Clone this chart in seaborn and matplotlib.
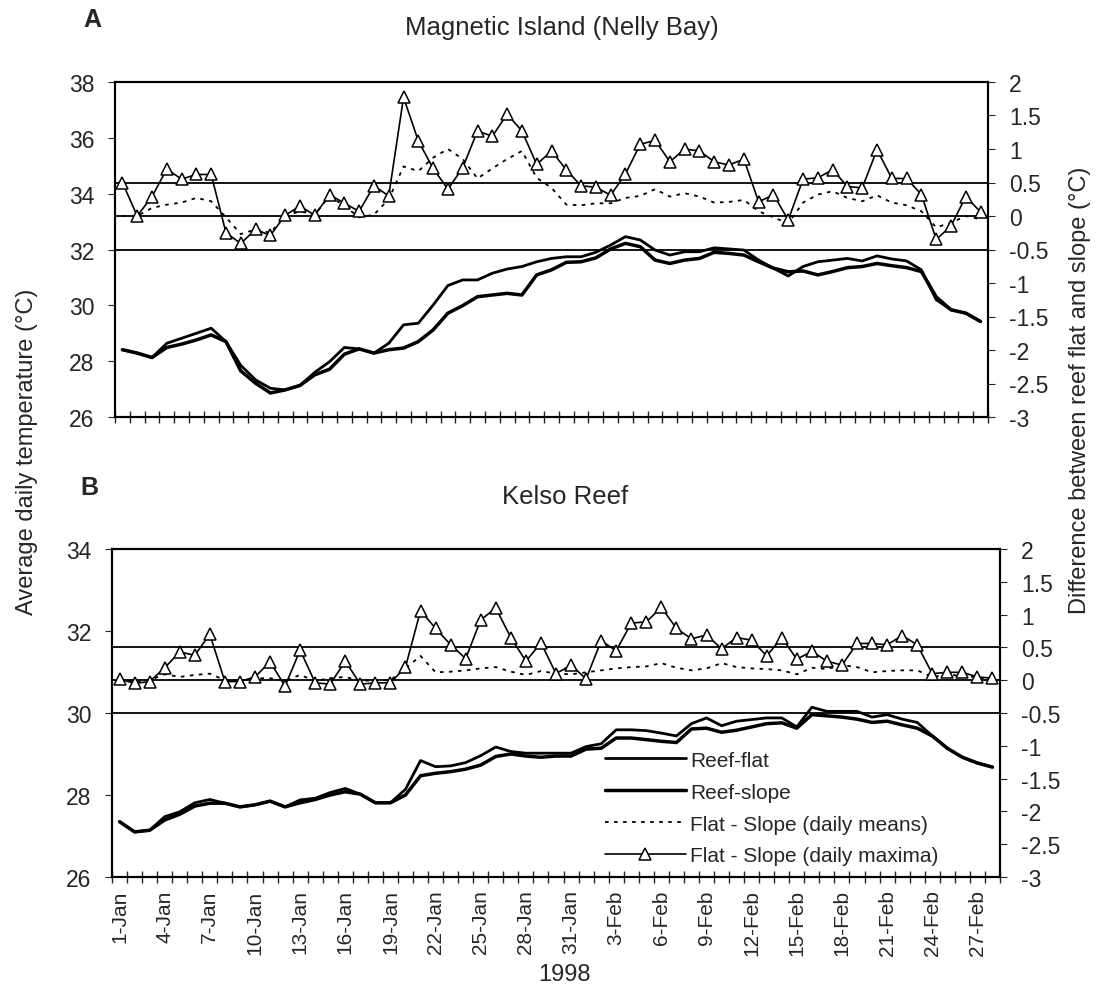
import numpy as np
import pandas as pd
import seaborn as sns
import matplotlib.pyplot as plt

sns.set_style('ticks')
plt.rcParams['font.family'] = ['Liberation Sans', 'DejaVu Sans']
plt.rcParams['axes.unicode_minus'] = False

dates = pd.date_range('1998-01-01', '1998-02-28')
day_labels = [f'{d.day}-{d:%b}' for d in dates]
days = np.arange(len(dates))

# Magnetic Island (Nelly Bay)
mag_flat = [28.41, 28.29, 28.13, 28.64, 28.82, 29.00, 29.18, 28.70, 27.85, 27.33,
            27.03, 26.97, 27.13, 27.60, 27.98, 28.49, 28.44, 28.29, 28.64, 29.30,
            29.36, 30.01, 30.71, 30.91, 30.91, 31.15, 31.30, 31.39, 31.56, 31.68,
            31.74, 31.74, 31.90, 32.16, 32.46, 32.34, 31.98, 31.80, 31.92, 31.92,
            32.06, 32.02, 31.98, 31.62, 31.33, 31.05, 31.39, 31.56, 31.62, 31.68,
            31.59, 31.77, 31.66, 31.59, 31.27, 30.20, 29.84, 29.72, 29.42]
mag_slope = [28.41, 28.29, 28.13, 28.49, 28.61, 28.76, 28.94, 28.70, 27.65, 27.21,
             26.86, 26.97, 27.13, 27.51, 27.71, 28.25, 28.44, 28.29, 28.41, 28.47,
             28.70, 29.12, 29.72, 29.99, 30.31, 30.37, 30.43, 30.37, 31.09, 31.27,
             31.54, 31.56, 31.70, 32.02, 32.22, 32.10, 31.62, 31.50, 31.62, 31.68,
             31.90, 31.86, 31.80, 31.56, 31.33, 31.20, 31.23, 31.09, 31.21, 31.35,
             31.39, 31.50, 31.42, 31.35, 31.21, 30.30, 29.84, 29.72, 29.42]
mag_mean_diff = [0.00, 0.00, 0.12, 0.17, 0.20, 0.27, 0.22, -0.02, -0.27, -0.20,
                 -0.25, 0.00, 0.07, 0.02, 0.30, 0.15, -0.02, 0.02, 0.25, 0.74,
                 0.67, 0.87, 1.00, 0.85, 0.56, 0.71, 0.85, 0.97, 0.57, 0.42,
                 0.17, 0.16, 0.19, 0.19, 0.27, 0.30, 0.40, 0.29, 0.34, 0.29,
                 0.20, 0.21, 0.24, 0.07, -0.02, -0.11, 0.20, 0.32, 0.37, 0.27,
                 0.22, 0.31, 0.20, 0.16, 0.07, -0.17, -0.10, 0.00, -0.05]
mag_max_diff = [0.50, 0.00, 0.29, 0.70, 0.55, 0.62, 0.62, -0.25, -0.41, -0.20,
                -0.29, 0.01, 0.15, 0.01, 0.32, 0.19, 0.07, 0.45, 0.30, 1.77,
                1.12, 0.71, 0.40, 0.72, 1.27, 1.19, 1.52, 1.27, 0.77, 0.97,
                0.69, 0.45, 0.43, 0.31, 0.63, 1.07, 1.13, 0.81, 1.00, 0.97,
                0.81, 0.76, 0.85, 0.21, 0.32, -0.06, 0.55, 0.57, 0.69, 0.44,
                0.42, 0.99, 0.56, 0.56, 0.32, -0.35, -0.15, 0.29, 0.06]

# Kelso Reef
kel_flat = [27.35, 27.10, 27.14, 27.47, 27.59, 27.81, 27.89, 27.80, 27.71, 27.76,
            27.85, 27.71, 27.88, 27.92, 28.06, 28.16, 28.02, 27.81, 27.81, 28.14,
            28.84, 28.69, 28.71, 28.79, 28.96, 29.17, 29.06, 29.02, 29.02, 29.02,
            29.02, 29.18, 29.25, 29.59, 29.59, 29.57, 29.51, 29.44, 29.74, 29.88,
            29.69, 29.80, 29.84, 29.88, 29.88, 29.66, 30.14, 30.04, 30.04, 30.04,
            29.90, 29.96, 29.85, 29.77, 29.44, 29.14, 28.92, 28.78, 28.68]
kel_slope = [27.35, 27.10, 27.14, 27.39, 27.53, 27.73, 27.80, 27.80, 27.71, 27.76,
             27.85, 27.71, 27.81, 27.89, 28.00, 28.08, 28.02, 27.81, 27.81, 28.00,
             28.47, 28.53, 28.57, 28.63, 28.73, 28.94, 29.00, 28.95, 28.92, 28.95,
             28.95, 29.12, 29.14, 29.39, 29.39, 29.35, 29.31, 29.28, 29.61, 29.63,
             29.53, 29.58, 29.66, 29.74, 29.76, 29.63, 29.96, 29.93, 29.90, 29.85,
             29.77, 29.80, 29.71, 29.63, 29.44, 29.14, 28.92, 28.78, 28.68]
kel_mean_diff = [0.02, -0.03, 0.00, 0.09, 0.05, 0.08, 0.10, 0.00, -0.01, 0.03,
                 0.03, -0.01, 0.08, -0.01, 0.03, 0.05, -0.01, 0.00, 0.00, 0.18,
                 0.37, 0.12, 0.13, 0.15, 0.18, 0.20, 0.13, 0.08, 0.14, 0.10,
                 0.09, 0.12, 0.15, 0.18, 0.20, 0.21, 0.26, 0.19, 0.15, 0.18,
                 0.26, 0.20, 0.18, 0.17, 0.15, 0.09, 0.19, 0.17, 0.23, 0.20,
                 0.12, 0.14, 0.15, 0.15, 0.05, 0.08, 0.07, 0.04, 0.02]
kel_max_diff = [0.02, -0.05, -0.02, 0.19, 0.43, 0.38, 0.70, -0.02, -0.02, 0.05,
                0.28, -0.09, 0.46, -0.04, -0.06, 0.29, -0.06, -0.04, -0.04, 0.20,
                1.06, 0.79, 0.54, 0.33, 0.92, 1.10, 0.65, 0.29, 0.57, 0.10,
                0.23, 0.02, 0.60, 0.45, 0.87, 0.89, 1.11, 0.79, 0.63, 0.69,
                0.48, 0.65, 0.61, 0.37, 0.65, 0.32, 0.44, 0.29, 0.23, 0.56,
                0.56, 0.54, 0.68, 0.54, 0.10, 0.12, 0.12, 0.05, 0.03]

diff_ticks = np.arange(-3, 2.01, 0.5)

fig = plt.figure(figsize=(10.98, 9.87), dpi=100)


def draw_panel(rect, flat, slope, mean_diff, max_diff, t_ticks, show_dates, legend):
    ax = fig.add_axes(rect)
    ax2 = ax.twinx()

    sns.lineplot(x=days, y=flat, ax=ax, color='black', lw=2.0, label='Reef-flat')
    sns.lineplot(x=days, y=slope, ax=ax, color='black', lw=2.5, label='Reef-slope')
    for v in (0.5, 0, -0.5):
        ax2.axhline(v, color='black', lw=1.3)
    sns.lineplot(x=days, y=mean_diff, ax=ax2, color='black', lw=1.3,
                 linestyle=(0, (2, 3)), label='Flat - Slope (daily means)')
    sns.lineplot(x=days, y=max_diff, ax=ax2, color='black', lw=1.2, marker='^',
                 markersize=8.5, markerfacecolor='white', markeredgecolor='black',
                 markeredgewidth=1.1, label='Flat - Slope (daily maxima)')

    h1, l1 = ax.get_legend_handles_labels()
    h2, l2 = ax2.get_legend_handles_labels()
    ax.get_legend().remove()
    ax2.get_legend().remove()

    ax.set_xlim(-0.5, len(days) - 0.5)
    ax.set_ylim(t_ticks[0], t_ticks[-1])
    ax.set_yticks(t_ticks)
    ax.set_yticklabels([str(t) for t in t_ticks])
    ax2.set_ylim(-3, 2)
    ax2.set_yticks(diff_ticks)
    ax2.set_yticklabels([f'{v:g}' for v in diff_ticks])
    ax.set_xlabel('')
    ax.set_ylabel('')
    ax2.set_ylabel('')

    ax.set_xticks(days[::3])
    ax.set_xticks(np.arange(-0.5, len(days), 1), minor=True)
    ax.tick_params(axis='x', which='major', length=0, pad=9, labelsize=15)
    ax.tick_params(axis='x', which='minor', direction='inout', length=8, width=1)
    if show_dates:
        ax.set_xticklabels(day_labels[::3], rotation=90)
    else:
        ax.set_xticklabels([])
    ax.tick_params(axis='y', direction='out', length=5, pad=10, labelsize=16.5)
    ax2.tick_params(axis='y', direction='out', length=5, pad=10, labelsize=16.5)

    for a in (ax, ax2):
        for s in a.spines.values():
            s.set_linewidth(1.5)
            s.set_color('black')

    if legend:
        ax2.legend(h1 + h2, l1 + l2, loc='upper left', bbox_to_anchor=(0.555, 0.385),
                   frameon=False, fontsize=15, handlelength=3.9, handletextpad=0.2,
                   labelspacing=0.62, borderpad=0, borderaxespad=0)
    return ax, ax2


draw_panel([115 / 1098, 1 - 418 / 987, 873 / 1098, 335 / 987],
           mag_flat, mag_slope, mag_mean_diff, mag_max_diff,
           [26, 28, 30, 32, 34, 36, 38], False, False)
draw_panel([112 / 1098, 1 - 878 / 987, 888 / 1098, 328 / 987],
           kel_flat, kel_slope, kel_mean_diff, kel_max_diff,
           [26, 28, 30, 32, 34], True, True)

fig.text(562 / 1098, 1 - 28 / 987, 'Magnetic Island (Nelly Bay)', ha='center', va='center', fontsize=18.5)
fig.text(565 / 1098, 1 - 497 / 987, 'Kelso Reef', ha='center', va='center', fontsize=18.5)
fig.text(92 / 1098, 1 - 20 / 987, 'A', ha='center', va='center', fontsize=18, fontweight='bold')
fig.text(89 / 1098, 1 - 488 / 987, 'B', ha='center', va='center', fontsize=18, fontweight='bold')
fig.text(27 / 1098, 1 - 452 / 987, 'Average daily temperature (°C)', rotation=90,
         ha='center', va='center', fontsize=17)
fig.text(1080 / 1098, 1 - 390 / 987, 'Difference between reef flat and slope (°C)', rotation=90,
         ha='center', va='center', fontsize=17)
fig.text(565 / 1098, 1 - 975 / 987, '1998', ha='center', va='center', fontsize=17)

fig.savefig('out.png', dpi=100)
